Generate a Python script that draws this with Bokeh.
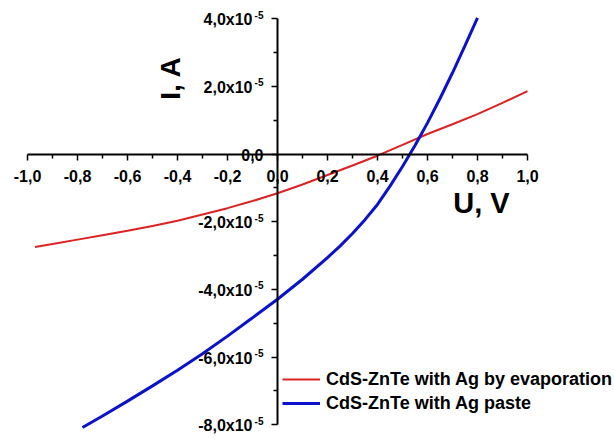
import math
from bokeh.plotting import figure
from bokeh.models import (LinearAxis, FixedTicker, Range1d, Label, Legend,
                          LegendItem, ColumnDataSource)
from bokeh.core.properties import value
from bokeh.embed import file_html
from bokeh.resources import INLINE

# ---- data ----
red_voltage = [-0.97, -0.9, -0.8, -0.7, -0.6, -0.5, -0.4, -0.3, -0.2, -0.1, 0.0,
               0.1, 0.2, 0.3, 0.4, 0.5, 0.6, 0.7, 0.8, 0.9, 1.0]
red_current = [-2.75e-5, -2.66e-5, -2.53e-5, -2.40e-5, -2.27e-5, -2.13e-5, -1.97e-5,
               -1.79e-5, -1.60e-5, -1.39e-5, -1.16e-5, -0.90e-5, -0.62e-5, -0.34e-5,
               -0.05e-5, 0.27e-5, 0.59e-5, 0.88e-5, 1.18e-5, 1.51e-5, 1.86e-5]

blue_voltage = [-0.78, -0.7, -0.6, -0.5, -0.4, -0.3, -0.2, -0.1, 0.0, 0.1, 0.2, 0.25,
                0.3, 0.35, 0.4, 0.45, 0.5, 0.55, 0.6, 0.65, 0.7, 0.75, 0.8]
blue_current = [-8.08e-5, -7.74e-5, -7.30e-5, -6.85e-5, -6.39e-5, -5.90e-5, -5.38e-5,
                -4.84e-5, -4.29e-5, -3.70e-5, -3.06e-5, -2.72e-5, -2.35e-5, -1.94e-5,
                -1.49e-5, -0.95e-5, -0.37e-5, 0.25e-5, 0.92e-5, 1.64e-5, 2.40e-5,
                3.20e-5, 4.02e-5]

series_names = ["CdS-ZnTe with Ag by evaporation", "CdS-ZnTe with Ag paste"]

x_ticks = [-1.0, -0.8, -0.6, -0.4, -0.2, 0.0, 0.2, 0.4, 0.6, 0.8, 1.0]
x_tick_labels = ["-1,0", "-0,8", "-0,6", "-0,4", "-0,2", "0,0", "0,2", "0,4", "0,6", "0,8", "1,0"]
x_minor = [-0.9, -0.7, -0.5, -0.3, -0.1, 0.1, 0.3, 0.5, 0.7, 0.9]

y_ticks = [-8e-5, -6e-5, -4e-5, -2e-5, 0.0, 2e-5, 4e-5]
y_tick_mantissas = ["-8,0x10", "-6,0x10", "-4,0x10", "-2,0x10", "0,0", "2,0x10", "4,0x10"]
y_tick_exponents = ["-5", "-5", "-5", "-5", "", "-5", "-5"]
y_minor = [-7e-5, -5e-5, -3e-5, -1e-5, 1e-5, 3e-5]

FONT = "Liberation Sans"
RED = "#dc2222"
BLUE = "#0a12cc"

p = figure(width=614, height=438, output_backend="svg", toolbar_location=None,
           x_axis_location=None, y_axis_location=None,
           x_range=Range1d(-1.108, 1.348), y_range=Range1d(-8.405e-5, 4.535e-5),
           min_border_left=0, min_border_right=0, min_border_top=0,
           min_border_bottom=0)
p.grid.visible = False
p.outline_line_color = None
p.background_fill_color = "white"
p.border_fill_color = "white"

xaxis = LinearAxis(fixed_location=0.0, bounds=(-1.0, 1.0),
                   ticker=FixedTicker(ticks=x_ticks, minor_ticks=x_minor),
                   major_label_overrides=dict(zip(x_ticks, x_tick_labels)))
yaxis = LinearAxis(fixed_location=0.0, bounds=(-8e-5, 4e-5),
                   ticker=FixedTicker(ticks=y_ticks, minor_ticks=y_minor),
                   major_label_overrides={t: "" for t in y_ticks})
for ax in (xaxis, yaxis):
    ax.axis_line_width = 2
    ax.axis_line_color = "black"
    ax.major_tick_in = 0
    ax.major_tick_out = 6
    ax.minor_tick_in = 0
    ax.minor_tick_out = 4
    ax.major_tick_line_width = 1.5
    ax.minor_tick_line_width = 1.5
    ax.major_label_text_font = FONT
    ax.major_label_text_font_style = "bold"
    ax.major_label_text_font_size = "16px"
    ax.major_label_text_color = "black"
xaxis.major_label_standoff = 10
p.add_layout(xaxis, "below")
p.add_layout(yaxis, "left")

# y tick labels with a raised exponent (placed at the tick values)
main_src = ColumnDataSource(data=dict(
    x=[0.0] * len(y_ticks), y=y_ticks, t=y_tick_mantissas,
    off=[-25 if e else -14 for e in y_tick_exponents]))
sup_idx = [k for k, e in enumerate(y_tick_exponents) if e]
sup_src = ColumnDataSource(data=dict(
    x=[0.0] * len(sup_idx), y=[y_ticks[k] for k in sup_idx],
    t=[y_tick_exponents[k] for k in sup_idx]))
p.text(x="x", y="y", text="t", source=main_src, x_offset="off", y_offset=1,
       text_align="right", text_baseline="middle", text_font=value(FONT),
       text_font_style="bold", text_font_size="16px", text_color="black")
p.text(x="x", y="y", text="t", source=sup_src, x_offset=-14, y_offset=-4,
       text_align="right", text_baseline="middle", text_font=value(FONT),
       text_font_style="bold", text_font_size="10px", text_color="black")

src_red = ColumnDataSource(data=dict(u=red_voltage, i=red_current))
src_blue = ColumnDataSource(data=dict(u=blue_voltage, i=blue_current))
r_red = p.line("u", "i", source=src_red, line_color=RED, line_width=2)
r_blue = p.line("u", "i", source=src_blue, line_color=BLUE, line_width=3)

p.add_layout(Label(x=0.816, y=-1.448e-5, text="U, V", text_font=FONT,
                   text_font_style="bold", text_font_size="29px", text_color="black",
                   text_align="center", text_baseline="middle"))
p.add_layout(Label(x=-0.43, y=2.245e-5, text="I, A", text_font=FONT,
                   text_font_style="bold", text_font_size="28px", text_color="black",
                   angle=math.pi / 2, text_align="center", text_baseline="middle"))

legend = Legend(items=[LegendItem(label=series_names[0], renderers=[r_red]),
                       LegendItem(label=series_names[1], renderers=[r_blue])],
                location=(282, 23), padding=0, margin=0, spacing=0,
                glyph_width=38, glyph_height=24, label_height=24, label_standoff=6,
                label_text_font=FONT, label_text_font_style="bold",
                label_text_font_size="18px", label_text_color="black",
                border_line_color=None, background_fill_alpha=0)
p.add_layout(legend)

open("out.html", "w").write(file_html(p, INLINE))
